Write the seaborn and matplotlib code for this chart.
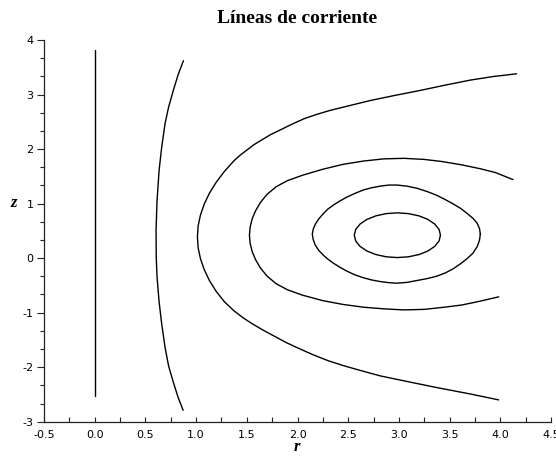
import matplotlib
matplotlib.use("Agg")
import matplotlib.pyplot as plt
from matplotlib.ticker import MultipleLocator, FormatStrFormatter
import seaborn as sns

# ---- data (digitised streamlines: r, z) ----
line0_r = [0.0, 0.0]
line0_z = [-2.52, 3.82]

line1_r = [0.875, 0.822, 0.776, 0.729, 0.694, 0.661, 0.635, 0.615, 0.605,
           0.607, 0.615, 0.635, 0.661, 0.694, 0.729, 0.776, 0.822, 0.872]
line1_z = [3.62, 3.36, 3.08, 2.77, 2.47, 2.04, 1.61, 1.06, 0.51,
           0.0, -0.35, -0.80, -1.21, -1.64, -1.98, -2.28, -2.55, -2.79]

line2_r = [4.16, 3.93, 3.705, 3.45, 3.21, 2.95, 2.718, 2.52, 2.323, 2.18,
           2.07, 1.95, 1.829, 1.73, 1.65, 1.57, 1.50, 1.436, 1.376, 1.279,
           1.198, 1.131, 1.080, 1.043, 1.020, 1.013, 1.020, 1.043, 1.080, 1.131,
           1.198, 1.279, 1.37, 1.46, 1.55, 1.66, 1.78, 1.89, 1.994, 2.15,
           2.30, 2.45, 2.60, 2.816, 3.10, 3.376, 3.70, 3.984]
line2_z = [3.38, 3.33, 3.265, 3.17, 3.075, 2.98, 2.89, 2.80, 2.71, 2.63,
           2.56, 2.46, 2.35, 2.26, 2.17, 2.08, 1.98, 1.89, 1.79, 1.59,
           1.39, 1.19, 0.99, 0.79, 0.59, 0.39, 0.19, -0.01, -0.21, -0.41,
           -0.61, -0.80, -0.96, -1.09, -1.20, -1.32, -1.44, -1.55, -1.64, -1.77,
           -1.88, -1.97, -2.05, -2.16, -2.27, -2.375, -2.49, -2.60]

line3_r = [4.126, 3.95, 3.80, 3.62, 3.43, 3.25, 3.05, 2.85, 2.65, 2.45,
           2.25, 2.05, 1.90, 1.79, 1.70, 1.634, 1.587, 1.553, 1.533, 1.526,
           1.533, 1.553, 1.587, 1.634, 1.70, 1.79, 1.90, 2.05, 2.25, 2.45,
           2.65, 2.85, 3.05, 3.25, 3.45, 3.62, 3.80, 3.984]
line3_z = [1.44, 1.57, 1.64, 1.71, 1.77, 1.81, 1.83, 1.82, 1.78, 1.72,
           1.63, 1.52, 1.42, 1.31, 1.17, 1.02, 0.87, 0.72, 0.57, 0.42,
           0.27, 0.12, -0.03, -0.18, -0.33, -0.47, -0.58, -0.68, -0.78, -0.85,
           -0.90, -0.93, -0.95, -0.94, -0.90, -0.86, -0.79, -0.71]

line4_r = [3.803, 3.795, 3.772, 3.73, 3.672, 3.61, 3.53, 3.45, 3.376, 3.28,
           3.18, 3.08, 2.981, 2.90, 2.816, 2.73, 2.65, 2.57, 2.488, 2.42,
           2.36, 2.30, 2.257, 2.21, 2.175, 2.155, 2.146, 2.155, 2.175, 2.21,
           2.257, 2.30, 2.36, 2.42, 2.488, 2.57, 2.65, 2.73, 2.816, 2.90,
           2.981, 3.08, 3.18, 3.28, 3.376, 3.46, 3.54, 3.61, 3.672, 3.73,
           3.772, 3.795, 3.803]
line4_z = [0.44, 0.54, 0.64, 0.73, 0.82, 0.91, 1.00, 1.08, 1.15, 1.22,
           1.28, 1.32, 1.34, 1.34, 1.32, 1.29, 1.25, 1.19, 1.12, 1.05,
           0.98, 0.90, 0.82, 0.72, 0.62, 0.53, 0.44, 0.34, 0.24, 0.14,
           0.05, -0.02, -0.10, -0.17, -0.24, -0.31, -0.36, -0.40, -0.43, -0.45,
           -0.46, -0.445, -0.41, -0.375, -0.33, -0.27, -0.19, -0.10, -0.01, 0.09,
           0.21, 0.33, 0.44]

line5_r = [3.410, 3.396, 3.353, 3.286, 3.198, 3.095, 2.985, 2.875, 2.773,
           2.685, 2.617, 2.574, 2.560, 2.574, 2.617, 2.685, 2.773, 2.875,
           2.985, 3.095, 3.198, 3.286, 3.353, 3.396, 3.410]
line5_z = [0.420, 0.526, 0.625, 0.710, 0.775, 0.816, 0.830, 0.816, 0.775,
           0.710, 0.625, 0.526, 0.420, 0.314, 0.215, 0.130, 0.065, 0.024,
           0.010, 0.024, 0.065, 0.130, 0.215, 0.314, 0.420]

curves = [(line0_r, line0_z), (line1_r, line1_z), (line2_r, line2_z),
          (line3_r, line3_z), (line4_r, line4_z), (line5_r, line5_z)]

title_text = "Líneas de corriente"
xlabel_text = "r"
ylabel_text = "z"

# ---- style ----
sns.set_theme(style="ticks")
plt.rcParams["font.family"] = ["DejaVu Sans"]
plt.rcParams["axes.unicode_minus"] = False
plt.rcParams["text.color"] = "black"
plt.rcParams["xtick.labelcolor"] = "black"
plt.rcParams["ytick.labelcolor"] = "black"

fig = plt.figure(figsize=(5.56, 4.58), dpi=100)
ax = fig.add_axes([44/556, 1-421.7/458, (551-44)/556, (421.7-40)/458])

for r, z in curves:
    sns.lineplot(x=r, y=z, sort=False, estimator=None, color="black",
                 linewidth=1.0, ax=ax)

ax.set_xlim(-0.5, 4.5)
ax.set_ylim(-3, 4)

sns.despine(ax=ax)
for s in ("left", "bottom"):
    ax.spines[s].set_linewidth(0.9)
    ax.spines[s].set_color("#222222")

ax.xaxis.set_major_locator(MultipleLocator(0.5))
ax.xaxis.set_minor_locator(MultipleLocator(0.25))
ax.xaxis.set_major_formatter(FormatStrFormatter("%.1f"))
ax.yaxis.set_major_locator(MultipleLocator(1))
ax.yaxis.set_minor_locator(MultipleLocator(1/3))
ax.yaxis.set_major_formatter(FormatStrFormatter("%d"))

ax.tick_params(axis="x", which="both", direction="in", length=3.5, width=0.8,
               color="#222222", labelsize=8, pad=6, labelcolor="black")
ax.tick_params(axis="y", which="major", direction="out", length=5, width=0.8,
               color="#222222", labelsize=8, pad=2.5, labelcolor="black")
ax.tick_params(axis="y", which="minor", direction="out", length=3, width=0.8,
               color="#222222")

ax.set_xlabel("")
ax.set_ylabel("")

fig.text(297/556, 1-23/458, title_text, ha="center", va="baseline",
         fontsize=14, fontweight="bold", family="Liberation Serif", color="black")
fig.text(297/556, 1-451/458, xlabel_text, ha="center", va="baseline",
         fontsize=12, fontweight="bold", style="italic", family="Liberation Serif",
         color="black")
fig.text(14/556, 1-203/458, ylabel_text, ha="center", va="center",
         fontsize=12, fontweight="bold", style="italic", family="Liberation Serif",
         color="black")

fig.savefig("out.png", dpi=100)
